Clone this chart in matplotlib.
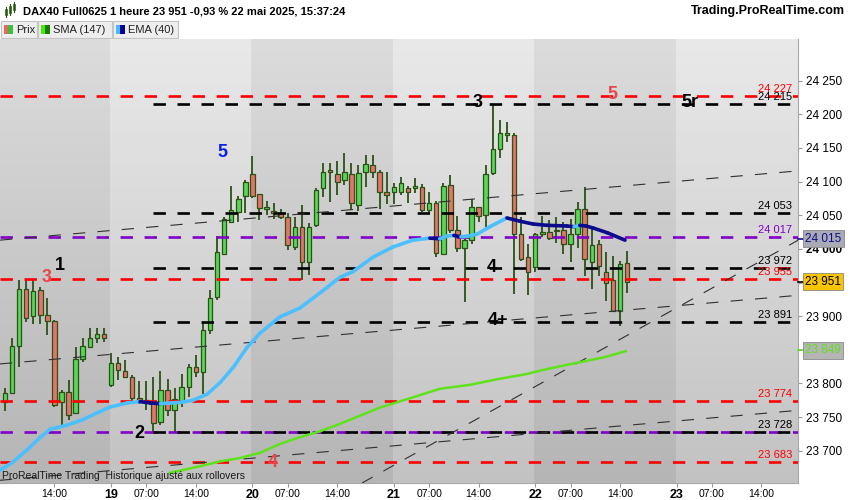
import numpy as np
import matplotlib
matplotlib.use("Agg")
import matplotlib.pyplot as plt
from matplotlib.collections import LineCollection
from matplotlib.colors import LinearSegmentedColormap
from matplotlib.patches import Rectangle
from matplotlib.transforms import blended_transform_factory

plt.rcParams['font.family'] = ['Liberation Sans', 'DejaVu Sans']

# Bar-Index: 20 Stundenkerzen pro Tag (02:00-21:00), Freitag 16. Mai = Tag 0
bar_idx = list(range(5, 94))
opens = [23773, 23786, 23855, 23940, 23900, 23939, 23901, 23893, 23773, 23787,
         23756, 23836, 23854, 23867, 23873,
         23797, 23830, 23818, 23810, 23779, 23775, 23772, 23743, 23790, 23761,
         23773, 23794, 23825, 23817, 23879, 23929, 23993, 24040, 24055, 24078,
         24112, 24081, 24060, 24056, 24053, 24047, 24003, 24033, 23981, 24036,
         24090, 24118, 24112, 24102, 24112, 24065, 24114, 24125, 24114, 24084,
         24084, 24084, 24090, 24090, 24092, 24058, 24068, 23993, 24095, 24028,
         24001, 24013, 24062, 24051, 24113, 24148, 24170, 24170, 24022, 23988,
         23973, 24022, 24025, 24026, 24028, 24007, 24022, 24060, 23981, 24007,
         23965, 23954, 23907, 23979]
highs = [23793, 23867, 23954, 23954, 23954, 23944, 23927, 23895, 23790, 23805,
         23854, 23867, 23883, 23883, 23882,
         23845, 23840, 23835, 23813, 23803, 23803, 23810, 23819, 23807, 23793,
         23814, 23829, 23842, 23890, 23939, 24019, 24047, 24093, 24078, 24102,
         24138, 24082, 24071, 24068, 24059, 24053, 24047, 24065, 24039, 24090,
         24127, 24127, 24130, 24143, 24127, 24125, 24140, 24140, 24117, 24115,
         24098, 24107, 24093, 24105, 24097, 24085, 24071, 24098, 24110, 24049,
         24014, 24074, 24063, 24125, 24214, 24192, 24189, 24173, 24048, 24007,
         24024, 24049, 24043, 24047, 24040, 24044, 24070, 24092, 24033, 24013,
         23995, 23989, 23982, 23997]
lows = [23759, 23784, 23825, 23892, 23889, 23889, 23872, 23765, 23736, 23746,
        23756, 23832, 23852, 23860, 23861,
        23795, 23805, 23809, 23773, 23770, 23760, 23726, 23738, 23751, 23726,
        23765, 23780, 23810, 23785, 23873, 23924, 23991, 24039, 24040, 24054,
        24075, 24043, 24050, 24045, 24045, 23998, 23998, 23954, 23961, 24033,
        24077, 24070, 24080, 24095, 24058, 24057, 24092, 24105, 24060, 24067,
        24067, 24080, 24068, 24083, 24055, 24054, 23988, 23992, 24023, 23996,
        23921, 24008, 24040, 24033, 24110, 24135, 24159, 23933, 23982, 23931,
        23965, 24018, 24013, 24009, 23993, 23980, 24002, 23959, 23941, 23959,
        23923, 23907, 23886, 23935]
closes = [23786, 23855, 23940, 23898, 23938, 23902, 23893, 23768, 23787, 23753,
          23836, 23855, 23867, 23873, 23867,
          23830, 23820, 23809, 23778, 23775, 23772, 23741, 23790, 23761, 23777,
          23794, 23824, 23817, 23879, 23927, 23996, 24044, 24058, 24074, 24099,
          24079, 24061, 24062, 24053, 24048, 24006, 24033, 23981, 24033, 24087,
          24114, 24114, 24100, 24115, 24068, 24113, 24126, 24114, 24084, 24080,
          24092, 24098, 24085, 24093, 24058, 24068, 23994, 24093, 24028, 24001,
          24013, 24063, 24049, 24112, 24148, 24173, 24172, 24022, 23985, 23965,
          24022, 24025, 24016, 24028, 24007, 24022, 24059, 23985, 24006, 23974,
          23950, 23907, 23977, 23951]

# EMA(40) und SMA(147)
ema_bar = [4.3, 6.1, 8.1, 10.0, 11.4, 13.8, 16.0, 18.0, 19.9, 22.3, 24.1, 25.5,
           27.0, 28.5, 30.0, 31.6, 33.6, 35.4, 37.3, 39.2, 41.1, 43.9, 46.7,
           48.6, 50.6, 52.4, 54.2, 57.1, 59.9, 62.7, 65.1, 66.5, 67.5, 68.5,
           69.5, 70.5, 71.8, 73.6, 76.0, 77.9, 79.7, 81.7, 84.5, 85.5, 86.3,
           87.2, 88.2, 90.2, 92.7]
ema_val = [23671, 23683, 23701, 23720, 23732, 23738, 23746, 23756, 23765, 23771,
           23773, 23771, 23770, 23771, 23772, 23775, 23784, 23801, 23824, 23853,
           23875, 23899, 23912, 23927, 23943, 23958, 23966, 23988, 24003, 24013,
           24016, 24015, 24019, 24020, 24018, 24019, 24022, 24033, 24046, 24041,
           24037, 24035, 24034, 24033, 24035, 24034, 24031, 24024, 24013]
sma_bar = [28.3, 30.5, 32.6, 35.4, 38.2, 41.1, 43.9, 46.7, 49.6, 52.4, 55.2,
           58.0, 62.3, 66.5, 70.8, 75.0, 78.8, 81.1, 84.2, 87.0, 89.8, 92.8]
sma_val = [23667, 23672, 23677, 23684, 23689, 23697, 23710, 23720, 23729, 23740,
           23752, 23764, 23778, 23792, 23798, 23807, 23814, 23820, 23827, 23833,
           23839, 23848]

# Horizontale Linien (Wert, Farbe, ab Bar)
hline_vals = [24227, 24215, 24053, 24017, 23972, 23955, 23891, 23774, 23728, 23728, 23683]
hline_cols = ["red", "black", "black", "purple", "black", "red", "black", "red",
              "purple", "black", "red"]
hline_from = [4.3, 25.9, 25.9, 4.3, 25.9, 4.3, 25.9, 4.3, 4.3, 25.9, 4.3]
hline_label = [True, True, True, True, True, True, True, True, False, True, True]

# Trendlinien (bar0, preis0, bar1, preis1)
trend_lines = [
    (4.3, 23829, 117.2, 23931),
    (4.3, 24013, 117.2, 24116),
    (4.3, 23656, 117.2, 23760),
    (55.5, 23652, 117.2, 24013),
]

# Markierungen (Text, Bar, Preis, Farbe)
marks = [("1", 12.8, 23975, "black"), ("3", 10.95, 23957, "red"),
         ("2", 24.0, 23726, "black"), ("4", 42.9, 23683, "red"),
         ("5", 35.8, 24143, "blue"), ("3", 71.9, 24217, "black"),
         ("5", 90.9, 24230, "red"), ("5r", 101.9, 24217, "black"),
         ("4", 73.9, 23973, "black"), ("4+", 74.7, 23893, "black")]

day_names = ["19", "20", "21", "22", "23"]

COLORS = {"red": "#ff0000", "black": "#000000", "purple": "#8000c8",
          "blue": "#0a1ee6"}
MARK_COLORS = {"red": "#e8454b", "black": "#000000", "blue": "#0a1ee6"}
WICK = "#2b5214"
GREEN = "#55d855"
RED = "#e6736a"

W, H = 850, 500
PR, PT, PB = 798, 39, 483
XL, XR = 4.3, 117.17
YB, YT = 23652, 24312

fig = plt.figure(figsize=(W / 100, H / 100), dpi=100)
fig.patch.set_facecolor("white")
ax = fig.add_axes([0, 1 - PB / H, PR / W, (PB - PT) / H])
ax.set_xlim(XL, XR)
ax.set_ylim(YB, YT)

# Hintergrund: abwechselnde Tagesbaender mit Verlauf
light = LinearSegmentedColormap.from_list("l", ["#c2c2c2", "#e9e9e9"])
dark = LinearSegmentedColormap.from_list("d", ["#b5b5b5", "#dcdcdc"])
grad = np.linspace(0, 1, 256)[:, None]
edges = [XL, 19.85, 39.85, 59.85, 79.85, 99.85, XR]
for i in range(len(edges) - 1):
    ax.imshow(grad, cmap=dark if i % 2 == 0 else light, origin="lower",
              extent=[edges[i], edges[i + 1], YB, YT], aspect="auto",
              zorder=0, interpolation="bilinear")

# Kerzen
x = np.array(bar_idx)
o, h, l, c = map(np.array, (opens, highs, lows, closes))
up = c >= o
ax.vlines(x, l, h, color=WICK, lw=1.3, zorder=3)
ax.bar(x, np.maximum(np.abs(c - o), 1.5), bottom=np.minimum(o, c), width=0.64,
       color=np.where(up, GREEN, RED), edgecolor=WICK, linewidth=0.9, zorder=4)

# Horizontale Linien
trans_lbl = blended_transform_factory(ax.transAxes, ax.transData)
for v, col, x0, lab in zip(hline_vals, hline_cols, hline_from, hline_label):
    ax.plot([x0, XR], [v, v], color=COLORS[col], lw=1.9,
            linestyle=(0, (4.7, 4.4)), zorder=5)
    if lab:
        ax.annotate(f"{v:,}".replace(",", " "), xy=(1, v), xycoords=trans_lbl,
                    xytext=(-4, 1.5), textcoords="offset points", ha="right",
                    va="bottom", fontsize=8, color=COLORS[col], zorder=7)

# Trendlinien
for x0, y0, x1, y1 in trend_lines:
    ax.plot([x0, x1], [y0, y1], color="#303030", lw=0.8,
            linestyle=(0, (11, 11)), zorder=5)

# SMA
ax.plot(sma_bar, sma_val, color="#5ee21a", lw=1.8, zorder=6)

# EMA: hellblau steigend, dunkelblau fallend
pts = np.column_stack([ema_bar, ema_val])
segs = np.stack([pts[:-1], pts[1:]], axis=1)
seg_cols = ["#4cc0ff" if b >= a else "#0b0b8e" for a, b in zip(ema_val[:-1], ema_val[1:])]
ax.add_collection(LineCollection(segs, colors=seg_cols, linewidths=2.6,
                                 capstyle="round", zorder=6))

for txt, bx, py, col in marks:
    ax.text(bx, py, txt, color=MARK_COLORS[col], fontsize=13, fontweight="bold",
            ha="center", va="center", zorder=8)

ax.text(0.003, 0.004, "ProRealTime Trading  Historique ajusté aux rollovers",
        transform=ax.transAxes, fontsize=7.5, color="#1a1a1a", va="bottom", zorder=8)

# Achsen
for s in ("left", "top"):
    ax.spines[s].set_visible(False)
for s in ("right", "bottom"):
    ax.spines[s].set_color("#a8a8a8")
ax.yaxis.tick_right()
yt = list(range(23700, 24251, 50))
ax.set_yticks(yt)
ax.set_yticklabels([f"{v:,}".replace(",", " ") for v in yt])
ax.tick_params(axis="y", direction="out", length=3, color="#999999",
               labelsize=8.5, pad=3)
for t, v in zip(ax.get_yticklabels(), yt):
    if v == 24000:
        t.set_fontweight("bold")

xt, xl, xbold = [12], ["14:00"], [False]
for k, d in enumerate(day_names, start=1):
    xt += [20 * k, 20 * k + 5, 20 * k + 12]
    xl += [d, "07:00", "14:00"]
    xbold += [True, False, False]
ax.set_xticks(xt)
ax.set_xticklabels(xl)
ax.tick_params(axis="x", direction="out", length=3, color="#999999",
               labelsize=7.5, pad=1)
for t, b in zip(ax.get_xticklabels(), xbold):
    if b:
        t.set_fontweight("bold")
        t.set_fontsize(9)

# Preisboxen an der Achse
boxes = [(24015, "#0d0d8a", "#a9aab6"), (23951, "#000000", "#f6c400"),
         (23849, "#5ee21a", "#b5b5b5")]
for v, fc, bc in boxes:
    ax.plot([1.0, 1.008], [v, v], color=fc, lw=1.2, transform=trans_lbl,
            clip_on=False, zorder=9)
    ax.annotate(f"{v:,}".replace(",", " "), xy=(1, v), xycoords=trans_lbl,
                xytext=(5, 0), textcoords="offset points", ha="left",
                va="center", fontsize=8.5, color=fc, zorder=10,
                bbox=dict(boxstyle="square,pad=0.2", fc=bc, ec="#8a8a8a", lw=0.6))

# Kopfzeile
hdr = fig.add_axes([0, 0, 1, 1], zorder=-1)
hdr.set_xlim(0, W)
hdr.set_ylim(H, 0)
hdr.axis("off")
for xi, y0, y1, col in [(6, 9, 15, GREEN), (10, 6, 13, GREEN), (14, 4, 10, GREEN)]:
    hdr.add_patch(Rectangle((xi - 1.3, y0), 2.6, y1 - y0, fc=col, ec=WICK, lw=0.5))
    hdr.plot([xi, xi], [y0 - 2, y1 + 2], color=WICK, lw=0.8)
hdr.text(23, 11, "DAX40 Full0625 1 heure 23 951 -0,93 % 22 mai 2025, 15:37:24",
         fontsize=8, fontweight="bold", va="center", ha="left")
hdr.text(845, 11, "Trading.ProRealTime.com", fontsize=9, fontweight="bold",
         va="center", ha="right")

legend_items = [(1, 37, "Prix", "#e36a5e", "#3cc03c"),
                (38, 112, "SMA (147)", "#44ee00", "#1a7a00"),
                (113, 178, "EMA (40)", "#44bbff", "#000099")]
for x0, x1, txt, c1, c2 in legend_items:
    hdr.add_patch(Rectangle((x0, 21), x1 - x0, 17, fc="#eeeeee", ec="#c4c4c4", lw=0.8))
    hdr.add_patch(Rectangle((x0 + 3, 25), 4.5, 9, fc=c1, ec="none"))
    hdr.add_patch(Rectangle((x0 + 7.5, 25), 4.5, 9, fc=c2, ec="none"))
    hdr.text(x0 + 15, 30, txt, fontsize=8, va="center", ha="left", color="#222222")

fig.savefig("out.png", dpi=100)
